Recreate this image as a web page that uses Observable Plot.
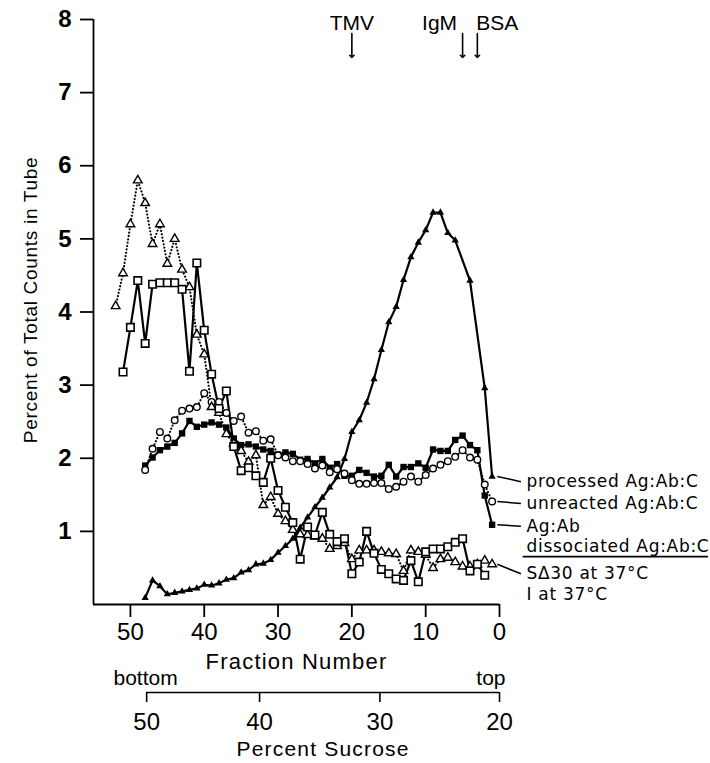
<!DOCTYPE html>
<html><head><meta charset="utf-8">
<script src="https://cdn.jsdelivr.net/npm/d3@7"></script>
<script src="https://cdn.jsdelivr.net/npm/@observablehq/plot@0.6"></script>
<style>
body{margin:0;background:#fff;}
#chart svg{display:block;}
.legend text{letter-spacing:0.7px;}
.ylab text{letter-spacing:0.7px;}
.xlab text{letter-spacing:1.2px;}
</style></head><body><div id="chart"></div>
<script>
// ---------- data ----------
const processedFraction = [48,47,46,45,44,43,42,41,40,39,38,37,36,35,34,33,32,31,30,29,28,27,26,25,24,23,22,21,20,19,18,17,16,15,14,13,12,11,10,9,8,7,6,4,2,1];
const processedValue    = [0.09,0.33,0.25,0.14,0.16,0.18,0.20,0.22,0.27,0.26,0.29,0.34,0.36,0.44,0.47,0.55,0.56,0.61,0.71,0.80,0.90,1.05,1.19,1.33,1.46,1.60,1.74,1.99,2.36,2.52,2.76,3.08,3.48,3.86,4.07,4.44,4.75,4.95,5.12,5.36,5.36,5.08,4.98,4.43,2.96,1.75];

const unreactedFraction = [48,47,46,45,44,43,42,41,40,39,38,37,36,35,34,33,32,31,30,29,28,27,26,25,24,23,22,21,20,19,18,17,16,15,14,13,12,11,10,9,8,7,6,5,4,3,2,1];
const unreactedValue    = [1.84,2.13,2.36,2.27,2.52,2.65,2.68,2.70,2.89,2.77,2.77,2.62,2.51,2.57,2.35,2.37,2.24,2.26,2.04,2.01,1.96,1.96,1.92,1.86,1.90,1.81,1.85,1.79,1.70,1.65,1.65,1.66,1.66,1.58,1.61,1.68,1.75,1.68,1.77,1.86,1.91,1.96,2.02,2.11,2.01,1.98,1.64,1.41];

const agabFraction = [48,47,46,45,44,43,42,41,40,39,38,37,36,35,34,33,32,31,30,29,28,27,26,25,24,23,22,21,20,19,18,17,16,15,14,13,12,11,10,9,8,7,6,5,4,3,2,1];
const agabValue    = [1.90,2.01,2.11,2.16,2.21,2.34,2.51,2.43,2.46,2.49,2.46,2.42,2.27,2.18,2.19,2.16,2.12,2.10,2.05,2.08,2.06,1.98,1.99,1.93,1.99,1.87,1.92,1.76,1.76,1.84,1.80,1.75,1.76,1.91,1.75,1.88,1.88,1.93,1.87,2.12,2.10,2.10,2.25,2.31,2.18,2.11,1.49,1.09];

const sd30Fraction = [52,51,50,49,48,47,46,45,44,43,42,41,40,39,38,37,36,35,34,33,32,31,30,29,28,27,26,25,24,23,22,21,20,19,18,17,16,15,14,13,12,11,10,9,8,7,6,5,4,3,2,1];
const sd30Value    = [4.08,4.53,5.20,5.80,5.49,4.93,5.20,4.66,5.00,4.58,4.34,3.69,3.42,2.70,2.62,2.33,2.20,2.10,1.95,2.04,1.36,1.47,1.24,1.14,1.02,0.96,0.95,0.93,0.90,0.76,0.80,0.84,0.62,0.74,0.74,0.74,0.72,0.70,0.69,0.46,0.74,0.72,0.68,0.50,0.62,0.64,0.58,0.52,0.52,0.55,0.60,0.55];

const i37Fraction = [51,50,49,48,47,46,45,44,43,42,41,40,39,38,37,36,35,34,33,32,31,30,29,28,27,26,25,24,23,22,21,20,19,18,17,16,15,14,13,12,11,10,9,8,7,6,5,4,3,2];
const i37Value    = [3.18,3.79,4.43,3.57,4.38,4.40,4.40,4.40,4.31,3.19,4.67,3.75,3.15,2.68,2.92,2.16,1.83,1.87,1.76,1.67,2.00,1.56,1.33,1.12,0.62,1.06,0.95,1.26,0.96,0.86,0.90,0.42,0.58,1.00,0.70,0.48,0.42,0.35,0.33,0.60,0.31,0.72,0.76,0.76,0.79,0.85,0.90,0.46,0.55,0.40];

const yTicks = [1,2,3,4,5,6,7,8];
const xTicks = [50,40,30,20,10,0];
const sucroseLabels = ["50","40","30","20"];
const sucroseAtFraction = [47.8,32.5,16.2,0];

const standardNames = ["TMV","IgM","BSA"];
const standardFraction = [20,5,3];

const legendLabels = ["processed Ag:Ab:C","unreacted Ag:Ab:C","Ag:Ab","dissociated Ag:Ab:C","S\u039430 at 37\u00B0C","I at 37\u00B0C"];
const legendLevel  = [1.68,1.38,1.07,0.79,0.42,0.13];

// ---------- build ----------
const rows = (f, v) => f.map((d, i) => ({f: d, v: v[i]}));
const processed = rows(processedFraction, processedValue);
const unreacted = rows(unreactedFraction, unreactedValue);
const agab = rows(agabFraction, agabValue);
const sd30 = rows(sd30Fraction, sd30Value);
const i37 = rows(i37Fraction, i37Value);
const standards = standardNames.map((n, i) => ({name: n, f: standardFraction[i]}));
const legend = legendLabels.map((l, i) => ({label: l, y: legendLevel[i]}));
const sucroseLabelOf = new Map(sucroseAtFraction.map((f, i) => [f, sucroseLabels[i]]));

const W = 710, mL = 93, mR = 211;
const xDomain = [55, 0];
const font = "'Liberation Sans', Arial, sans-serif";
const legendFont = "'DejaVu Sans', sans-serif";
const labelDx = {TMV: 0, IgM: -23, BSA: 20};

const dotted = {stroke: "black", strokeWidth: 2.1, strokeDasharray: "0.1 3.3", strokeLinecap: "round"};
const solid = {stroke: "black", strokeWidth: 2.2};

// leaders: last point of a series -> its label
const ends = [processed, unreacted, agab, null, sd30].map((s, i) => s ? ({x1: s[s.length-1].f - 0.7, y1: s[s.length-1].v, y2: legendLevel[i]}) : null).filter(d => d);

const main = Plot.plot({
  width: W, height: 668, marginTop: 19, marginBottom: 64, marginLeft: mL, marginRight: mR,
  x: {domain: xDomain},
  y: {domain: [0, 8]},
  style: {fontFamily: font, color: "black", background: "white", overflow: "visible"},
  marks: [
    Plot.ruleX([xDomain[0]], {strokeWidth: 1.8}),
    Plot.ruleY([0], {strokeWidth: 1.8}),
    Plot.axisY(yTicks, {tickSize: 13, tickPadding: 9, fontSize: 24, fontWeight: "bold", tickFormat: d3.format("d"), label: null, strokeWidth: 1.8}),
    Plot.axisX(xTicks, {tickSize: 13, tickPadding: 5, fontSize: 24, tickFormat: d3.format("d"), label: null, strokeWidth: 1.8}),
    Plot.text(["Fraction Number"], {frameAnchor: "bottom", dy: 57, lineAnchor: "middle", text: d => d, fontSize: 22, className: "xlab"}),
    Plot.text(["Percent of Total Counts in Tube"], {frameAnchor: "left", dx: -63, dy: -12, rotate: -90, textAnchor: "middle", text: d => d, fontSize: 19, className: "ylab"}),
    // series lines
    Plot.line(processed, {x: "f", y: "v", ...solid}),
    Plot.line(agab, {x: "f", y: "v", ...solid}),
    Plot.line(i37, {x: "f", y: "v", ...solid}),
    Plot.line(unreacted, {x: "f", y: "v", ...dotted}),
    Plot.line(sd30, {x: "f", y: "v", ...dotted}),
    // markers
    Plot.dot(processed, {x: "f", y: "v", symbol: "triangle", r: 2.7, fill: "black"}),
    Plot.dot(agab, {x: "f", y: "v", symbol: "square", r: 3.6, fill: "black"}),
    Plot.dot(unreacted, {x: "f", y: "v", symbol: "circle", r: 3.3, fill: "white", stroke: "black", strokeWidth: 1.4}),
    Plot.dot(sd30, {x: "f", y: "v", symbol: "triangle", r: 3.2, fill: "white", stroke: "black", strokeWidth: 1.4}),
    Plot.dot(i37, {x: "f", y: "v", symbol: "square", r: 4.2, fill: "white", stroke: "black", strokeWidth: 1.6}),
    // standards
    ...standards.map(s => Plot.text([s], {x: "f", text: "name", frameAnchor: "top", lineAnchor: "middle", dy: 4, dx: labelDx[s.name], fontSize: 21})),
    Plot.vector(standards, {x: "f", frameAnchor: "top", dy: 14, length: 24, rotate: 180, anchor: "start", shape: "arrow", r: 1.6, strokeWidth: 1.6, stroke: "black"}),
    // legend
    Plot.link(ends, {x1: "x1", y1: "y1", x2: -2.9, y2: "y2", strokeWidth: 1.5, stroke: "black"}),
    Plot.ruleY([(legendLevel[3] + legendLevel[4]) / 2 + 0.05], {x1: -3.2, x2: -28.3, strokeWidth: 1.8}),
    Plot.text(legend, {y: "y", text: "label", frameAnchor: "right", dx: 27, textAnchor: "start", fontSize: 17, fontFamily: legendFont, className: "legend"})
  ]
});

const sucrose = Plot.plot({
  width: W, height: 95, marginTop: 0, marginBottom: 71, marginLeft: mL, marginRight: mR,
  x: {domain: xDomain},
  y: {domain: [0, 1], axis: null},
  style: {fontFamily: font, color: "black", background: "white", overflow: "visible"},
  marks: [
    Plot.ruleY([0], {x1: d3.max(sucroseAtFraction), x2: d3.min(sucroseAtFraction), strokeWidth: 1.6}),
    Plot.axisX(sucroseAtFraction, {tickSize: 10, tickPadding: 10, tickFormat: d => sucroseLabelOf.get(d), fontSize: 24, label: null, strokeWidth: 1.6}),
    Plot.text(["bottom"], {frameAnchor: "top-left", lineAnchor: "middle", dx: 20, dy: 10, textAnchor: "start", text: d => d, fontSize: 21}),
    Plot.text(["top"], {frameAnchor: "top-right", lineAnchor: "middle", dx: 6, dy: 10, text: d => d, fontSize: 21}),
    Plot.text(["Percent Sucrose"], {x: d3.mean(d3.extent(sucroseAtFraction)), frameAnchor: "bottom", lineAnchor: "middle", dy: 57, text: d => d, fontSize: 21, className: "xlab"})
  ]
});

document.getElementById("chart").append(main, sucrose);
</script></body></html>
